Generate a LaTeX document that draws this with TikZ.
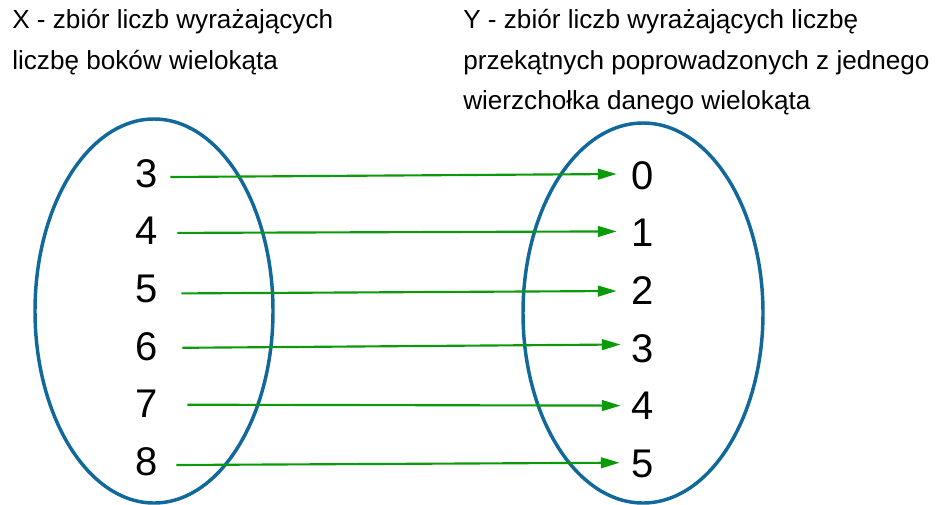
\documentclass[tikz,border=0pt]{standalone}
\usepackage{fontspec}
\setmainfont{Liberation Sans}
\usetikzlibrary{arrows.meta}
\definecolor{setblue}{HTML}{11689B}
\definecolor{mapgreen}{HTML}{0A9A0A}

\begin{document}
\begin{tikzpicture}[x=0.75pt, y=-0.75pt,
    zbior/.style={draw=setblue, line width=2.6pt},
    liczba/.style={inner sep=0pt, font=\fontsize{30}{36}\selectfont},
    opis/.style={inner sep=0pt, anchor=north west, align=left, font=\fontsize{19.6}{30.5}\selectfont},
    strzalka/.style={draw=mapgreen, line width=1.6pt, -{Triangle[length=14pt, width=8pt]}}]
  \useasboundingbox (0,0) rectangle (938,504);

  % descriptions of both sets
  \node[opis] (opisX) at (12,9) {X - zbiór liczb wyrażających\\liczbę boków wielokąta};
  \node[opis] (opisY) at (463,9) {Y - zbiór liczb wyrażających liczbę\\przekątnych poprowadzonych z jednego\\wierzchołka danego wielokąta};

  % the two sets
  \draw[zbior] (154,311) ellipse [x radius=119, y radius=192];
  \draw[zbior] (643,313) ellipse [x radius=120, y radius=190];

  % elements
  \foreach \n [count=\i from 0] in {3,...,8}
    \node[liczba] (x\n) at (147,173.5+57.6*\i) {\n};
  \foreach \n [count=\i from 0] in {0,...,5}
    \node[liczba] (y\n) at (643,175.5+57.6*\i) {\n};

  % n sides -> n-3 diagonals
  \foreach \a/\b/\sx/\sy/\tx/\ty in {3/0/12/3.5/-15/-1.5, 4/1/19/1.8/-15/-1.7,
      5/2/23/4.7/-15/0.3, 6/3/24/1.5/-11/-3.8, 7/4/29/0.8/-11/-0.3, 8/5/18/3.5/-12/-0.8}
    \draw[strzalka] ([shift={(\sx,\sy)}]x\a.east) -- ([shift={(\tx,\ty)}]y\b.west);
\end{tikzpicture}
\end{document}
